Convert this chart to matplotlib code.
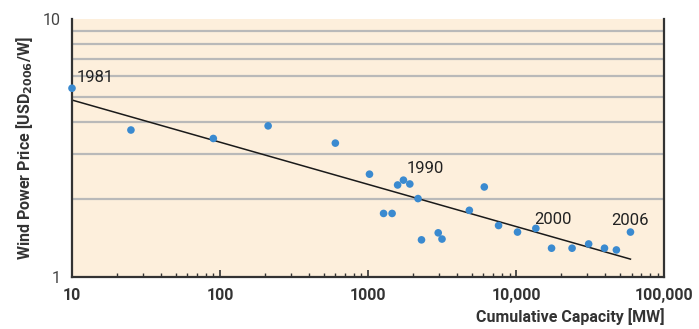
import matplotlib
matplotlib.use("Agg")
import matplotlib.pyplot as plt
from matplotlib.ticker import FixedLocator, LogLocator, NullFormatter, NullLocator

# ----------------- Data -----------------
capacity_mw = [10, 25, 90, 211, 600, 1020, 1270, 1450, 1580, 1730, 1910, 2170,
               2290, 2970, 3150, 4820, 6080, 7590, 10190, 13550, 17300, 23800,
               30800, 39400, 47400, 59000]
price_usd_w = [5.39, 3.71, 3.44, 3.85, 3.30, 2.50, 1.76, 1.76, 2.27, 2.37, 2.29, 2.01,
               1.39, 1.48, 1.40, 1.81, 2.23, 1.58, 1.49, 1.54, 1.29, 1.29,
               1.34, 1.29, 1.27, 1.49]

fit_x = [10, 59000]
fit_y = [4.85, 1.17]

year_labels = ["1981", "1990", "2000", "2006"]
year_x = [10.8, 1820, 13300, 43500]
year_y = [5.95, 2.62, 1.66, 1.65]

x_ticks = [10, 100, 1000, 10000, 100000]
x_tick_labels = ["10", "100", "1000", "10,000", "100,000"]
grid_levels = [2, 3, 4, 5, 6, 7, 8, 9]

FONT = ["Roboto", "DejaVu Sans"]
plt.rcParams["font.family"] = FONT

fig = plt.figure(figsize=(6.99, 3.29), dpi=100)
ax = fig.add_axes([0.103, 0.159, 0.8475, 0.783])
ax.set_facecolor("#fdefdc")

ax.set_xscale("log")
ax.set_yscale("log")
ax.set_xlim(10, 100000)
ax.set_ylim(1, 10)

for g in grid_levels:
    ax.axhline(g, color="#b9b9b9", lw=1.6, zorder=1)

ax.plot(fit_x, fit_y, color="#1a1a1a", lw=1.1, zorder=2)
ax.scatter(capacity_mw, price_usd_w, s=30, color="#3a8ad0", edgecolors="none",
           zorder=3, clip_on=False)

for lab, xx, yy in zip(year_labels, year_x, year_y):
    ax.text(xx, yy, lab, fontsize=12, color="#222222", ha="left", va="center")

# spines
ax.spines["top"].set_visible(False)
for side in ["left", "bottom", "right"]:
    ax.spines[side].set_color("#333333")
    ax.spines[side].set_linewidth(1.6)

# x axis ticks
ax.xaxis.set_major_locator(FixedLocator(x_ticks))
ax.xaxis.set_minor_locator(LogLocator(base=10, subs=range(2, 10)))
ax.xaxis.set_minor_formatter(NullFormatter())
ax.set_xticklabels(x_tick_labels, fontsize=11.5, fontweight="bold", color="#333333")
ax.tick_params(axis="x", which="major", direction="in", length=5, width=1.2,
               color="#333333", pad=8)
ax.tick_params(axis="x", which="minor", direction="in", length=3, width=1.0,
               color="#333333")

# y axis ticks
ax.yaxis.set_major_locator(FixedLocator([1, 10]))
ax.yaxis.set_minor_locator(NullLocator())
ax.set_yticklabels(["1", "10"], fontsize=11.5, color="#444444")
ax.tick_params(axis="y", which="major", length=0, pad=8)

ax.set_ylabel("Wind Power Price [USD$_{\\mathbf{2006}}$/W]", fontsize=11.5,
              fontweight="bold", color="#333333", labelpad=6)
ax.set_xlabel("Cumulative Capacity [MW]", fontsize=11.5, fontweight="bold",
              color="#333333", loc="right", labelpad=4)

fig.savefig("out.png", dpi=100)
